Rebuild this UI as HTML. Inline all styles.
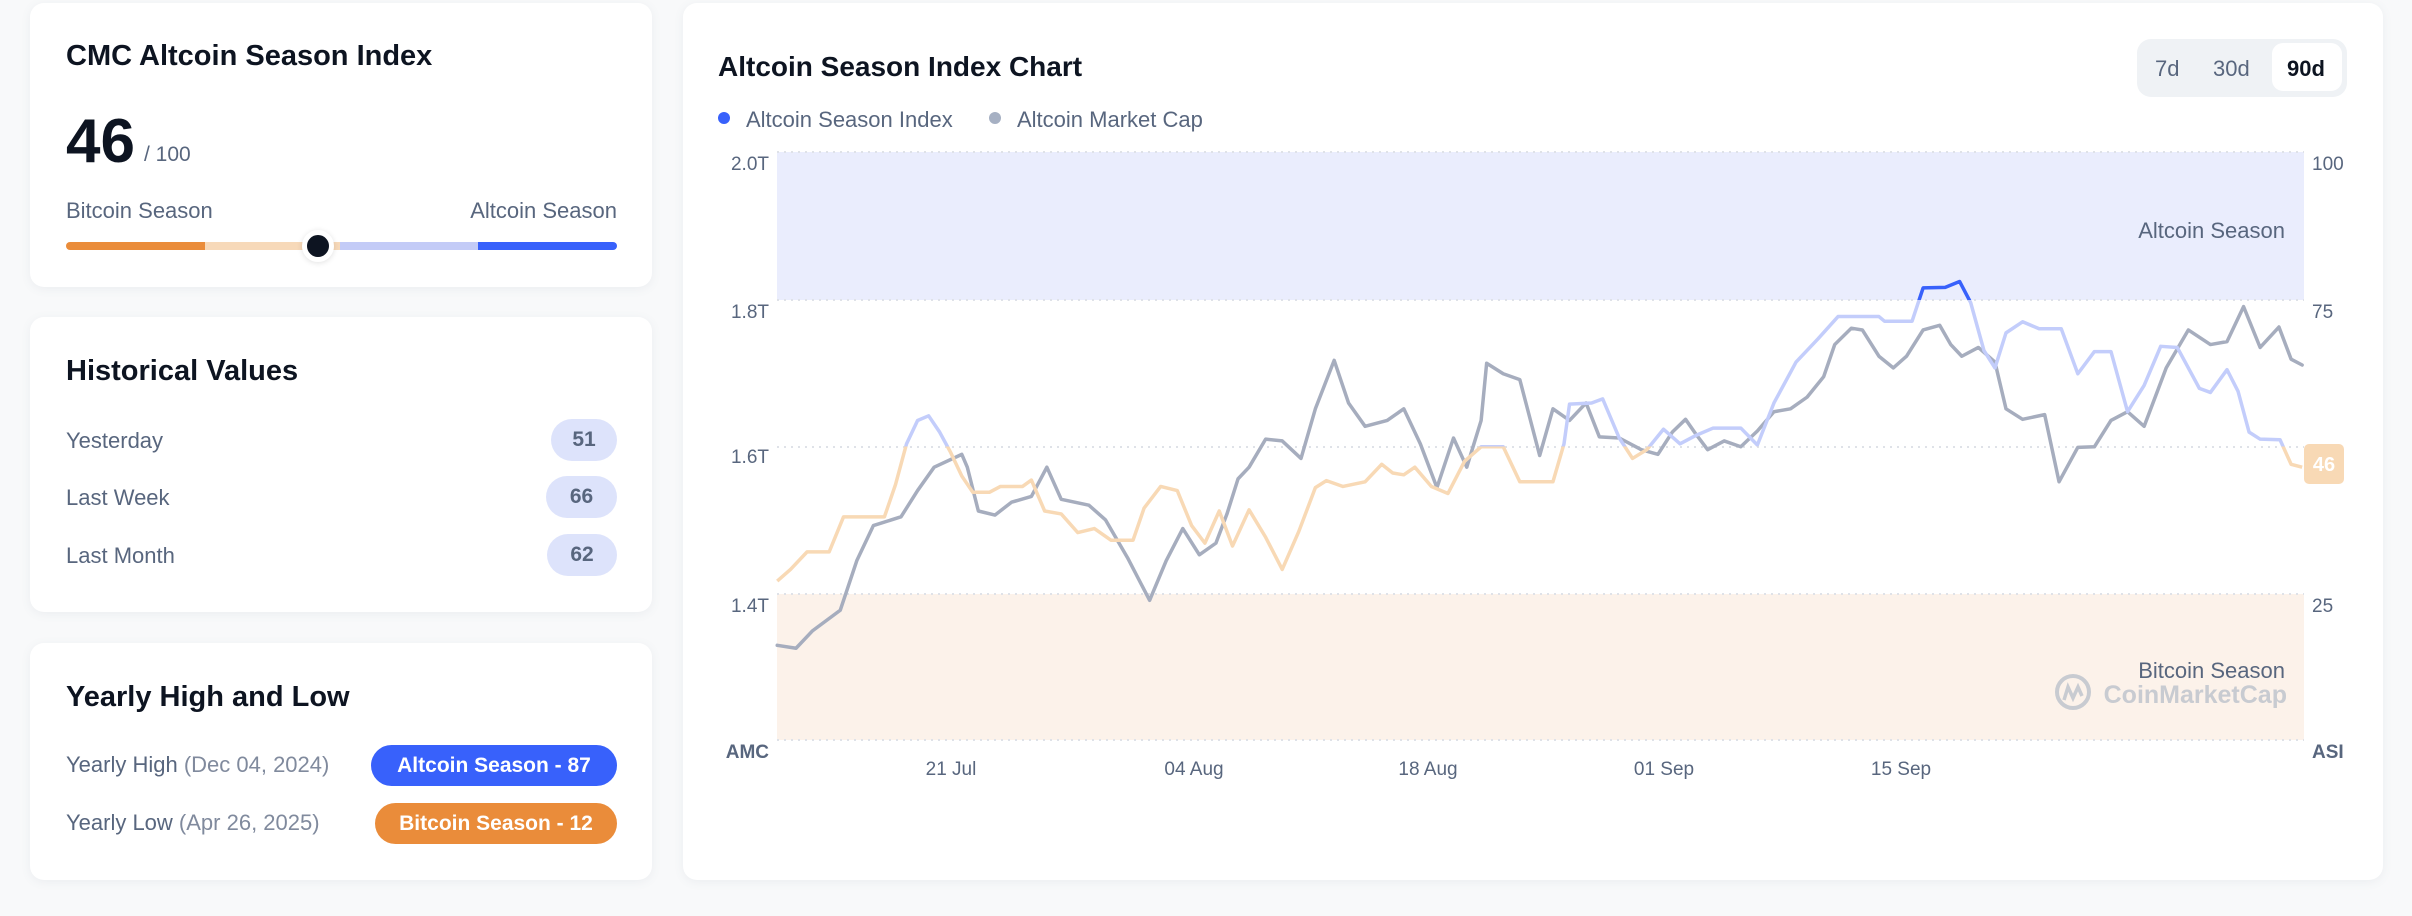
<!DOCTYPE html>
<html><head><meta charset="utf-8"><style>
*{margin:0;padding:0;box-sizing:border-box}
body{width:2412px;height:916px;background:#f8f9fa;font-family:"Liberation Sans",sans-serif;position:relative;overflow:hidden}
.card{position:absolute;background:#fff;border-radius:14px;box-shadow:0 2px 10px rgba(88,102,126,0.08)}
.t{position:absolute;white-space:nowrap}
.h{font-weight:bold;color:#0d1421;font-size:29px}
.lbl{color:#58667e;font-size:22px}
.pill{position:absolute;border-radius:21px;background:#dde3fb;color:#58667e;font-weight:bold;font-size:21px;text-align:center}
</style></head><body>

<div class="card" style="left:30px;top:3px;width:622px;height:284px"></div>
<div class="t h" style="left:66px;top:40px">CMC Altcoin Season Index</div>
<div class="t" style="left:66px;top:111px;font-size:62px;font-weight:bold;color:#0d1421;line-height:1">46</div>
<div class="t" style="left:144px;top:143px;font-size:21px;color:#58667e">/ 100</div>
<div class="t lbl" style="left:66px;top:198px">Bitcoin Season</div>
<div class="t lbl" style="right:1795px;top:198px">Altcoin Season</div>
<div style="position:absolute;left:66px;top:242px;width:139px;height:8px;background:#ea8c3a;border-radius:4px 0 0 4px"></div>
<div style="position:absolute;left:205px;top:242px;width:135px;height:8px;background:#f7d9b9"></div>
<div style="position:absolute;left:340px;top:242px;width:138px;height:8px;background:#c3cbf7"></div>
<div style="position:absolute;left:478px;top:242px;width:139px;height:8px;background:#3861fb;border-radius:0 4px 4px 0"></div>
<div style="position:absolute;left:302px;top:230px;width:32px;height:32px;border-radius:50%;background:#0d1421;border:5px solid #fff;box-shadow:0 1px 6px rgba(0,0,0,0.12)"></div>

<div class="card" style="left:30px;top:317px;width:622px;height:295px"></div>
<div class="t h" style="left:66px;top:355px">Historical Values</div>
<div class="t lbl" style="left:66px;top:428px">Yesterday</div>
<div class="t lbl" style="left:66px;top:485px">Last Week</div>
<div class="t lbl" style="left:66px;top:543px">Last Month</div>
<div class="pill" style="left:551px;top:419px;width:66px;height:42px;line-height:42px">51</div>
<div class="pill" style="left:546px;top:476px;width:71px;height:42px;line-height:42px">66</div>
<div class="pill" style="left:547px;top:534px;width:70px;height:42px;line-height:42px">62</div>

<div class="card" style="left:30px;top:643px;width:622px;height:237px"></div>
<div class="t h" style="left:66px;top:681px">Yearly High and Low</div>
<div class="t lbl" style="left:66px;top:752px">Yearly High <span style="color:#808a9d">(Dec 04, 2024)</span></div>
<div class="t lbl" style="left:66px;top:810px">Yearly Low <span style="color:#808a9d">(Apr 26, 2025)</span></div>
<div class="pill" style="left:371px;top:745px;width:246px;height:41px;line-height:41px;background:#3861fb;color:#fff">Altcoin Season - 87</div>
<div class="pill" style="left:375px;top:803px;width:242px;height:41px;line-height:41px;background:#ea8c3a;color:#fff">Bitcoin Season - 12</div>

<div class="card" style="left:683px;top:3px;width:1700px;height:877px"></div>
<div class="t h" style="left:718px;top:51px;font-size:28px">Altcoin Season Index Chart</div>
<div style="position:absolute;left:2137px;top:39px;width:210px;height:58px;background:#eff2f5;border-radius:14px"></div>
<div style="position:absolute;left:2272px;top:43px;width:70px;height:48px;background:#fff;border-radius:11px"></div>
<div class="t" style="left:2155px;top:56px;font-size:22px;color:#58667e">7d</div>
<div class="t" style="left:2213px;top:56px;font-size:22px;color:#58667e">30d</div>
<div class="t" style="left:2287px;top:56px;font-size:22px;color:#0d1421;font-weight:bold">90d</div>
<div style="position:absolute;left:718px;top:112px;width:12px;height:12px;border-radius:50%;background:#3861fb"></div>
<div class="t lbl" style="left:746px;top:107px">Altcoin Season Index</div>
<div style="position:absolute;left:989px;top:112px;width:12px;height:12px;border-radius:50%;background:#a6b0c3"></div>
<div class="t lbl" style="left:1017px;top:107px">Altcoin Market Cap</div>

<svg width="2412" height="916" style="position:absolute;left:0;top:0" font-family="Liberation Sans, sans-serif">
<defs>
<clipPath id="cHi"><rect x="0" y="0" width="2412" height="300"/></clipPath>
<clipPath id="cMid"><rect x="0" y="300" width="2412" height="146.5"/></clipPath>
<clipPath id="cLo"><rect x="0" y="446.5" width="2412" height="470"/></clipPath>
<polyline id="ip" vector-effect="non-scaling-stroke" fill="none" stroke-width="3.5" stroke-linejoin="round" points="88,995 100,975 115,945 135,945 148,885 185,885 195,830 205,760 215,720 225,712 235,740 245,775 255,815 265,843 280,843 290,833 310,833 318,822 330,875 345,880 360,912 375,905 390,925 410,925 420,870 435,833 450,840 463,900 475,930 488,875 500,935 515,873 530,920 545,975 560,910 575,835 585,823 600,833 620,825 635,795 645,810 655,813 665,800 680,833 695,845 710,790 725,765 745,765 760,825 790,825 800,760 805,692 825,690 835,683 850,750 862,785 875,770 890,735 905,760 920,745 935,733 960,733 975,762 990,690 1010,620 1030,580 1048,542 1085,542 1090,550 1115,550 1125,493 1145,492 1158,482 1168,518 1180,600 1190,630 1200,570 1215,551 1230,563 1250,563 1265,640 1280,602 1295,602 1310,705 1325,660 1340,593 1355,595 1375,665 1385,672 1400,633 1410,670 1420,740 1430,752 1448,753 1458,795 1468,800"/>
</defs>
<rect x="777" y="152" width="1527" height="148" fill="#eaedfd"/>
<rect x="777" y="594" width="1527" height="146" fill="#fcf2ea"/>
<g stroke="#dfe2e8" stroke-width="2" stroke-dasharray="2 5">
<line x1="777" y1="152" x2="2304" y2="152"/><line x1="777" y1="300" x2="2304" y2="300"/>
<line x1="777" y1="447" x2="2304" y2="447"/><line x1="777" y1="594" x2="2304" y2="594"/>
<line x1="777" y1="740" x2="2304" y2="740"/>
</g>
<g font-size="19" fill="#58667e">
<text x="769" y="170" text-anchor="end">2.0T</text><text x="769" y="318" text-anchor="end">1.8T</text>
<text x="769" y="463" text-anchor="end">1.6T</text><text x="769" y="612" text-anchor="end">1.4T</text>
<text x="2312" y="170">100</text><text x="2312" y="318">75</text><text x="2312" y="612">25</text>
<text x="769" y="758" text-anchor="end" font-weight="bold">AMC</text>
<text x="2312" y="758" font-weight="bold">ASI</text>
<g text-anchor="middle"><text x="951" y="775">21 Jul</text><text x="1194" y="775">04 Aug</text><text x="1428" y="775">18 Aug</text><text x="1664" y="775">01 Sep</text><text x="1901" y="775">15 Sep</text></g>
<text x="2285" y="238" text-anchor="end" font-size="22">Altcoin Season</text>
<text x="2285" y="678" text-anchor="end" font-size="22">Bitcoin Season</text>
</g>
<circle cx="2073" cy="692" r="16" fill="none" stroke="#c8cbd1" stroke-width="4"/>
<path d="M2064 700 l4 -13 l5 11 l5 -11 l4 9" fill="none" stroke="#c8cbd1" stroke-width="3.5"/>
<text x="2287" y="703" text-anchor="end" font-size="25" font-weight="bold" fill="#c8cbd1">CoinMarketCap</text>

<g transform="translate(680,0) scale(1.105,0.584)" fill="none" stroke-linejoin="round" stroke-linecap="round">
<polyline vector-effect="non-scaling-stroke" stroke="#a6adbe" stroke-width="3.5" points="88,1105 105,1110 120,1080 145,1045 160,960 175,900 200,885 215,840 230,800 255,778 260,800 270,875 285,882 300,860 318,850 332,800 345,855 370,865 385,890 405,955 425,1028 440,960 455,905 470,950 485,930 495,880 505,820 515,800 530,752 545,755 562,785 575,700 592,617 605,690 620,730 640,720 655,700 670,760 685,835 700,750 712,800 725,720 730,622 745,640 760,650 778,780 790,700 805,720 820,690 832,748 850,750 870,770 885,778 898,740 910,718 920,745 930,770 945,755 960,765 975,738 990,705 1005,700 1020,680 1035,645 1045,590 1060,562 1070,565 1085,610 1098,630 1110,610 1125,565 1140,557 1150,590 1160,610 1175,595 1190,620 1200,700 1215,718 1235,710 1248,825 1265,766 1280,765 1295,720 1310,705 1325,730 1345,630 1365,565 1385,590 1400,585 1415,525 1430,595 1447,560 1458,615 1468,625"/>
</g>
<g clip-path="url(#cHi)"><g transform="translate(680,0) scale(1.105,0.584)"><use href="#ip" stroke="#3861fb"/></g></g>
<g clip-path="url(#cMid)"><g transform="translate(680,0) scale(1.105,0.584)"><use href="#ip" stroke="#c3cdfb"/></g></g>
<g clip-path="url(#cLo)"><g transform="translate(680,0) scale(1.105,0.584)"><use href="#ip" stroke="#f8d9b5"/></g></g>
<rect x="2304" y="444" width="40" height="40" rx="5" fill="#f8d9b5"/>
<text x="2324" y="471" text-anchor="middle" font-size="20" font-weight="bold" fill="#fff">46</text>
</svg>
</body></html>
